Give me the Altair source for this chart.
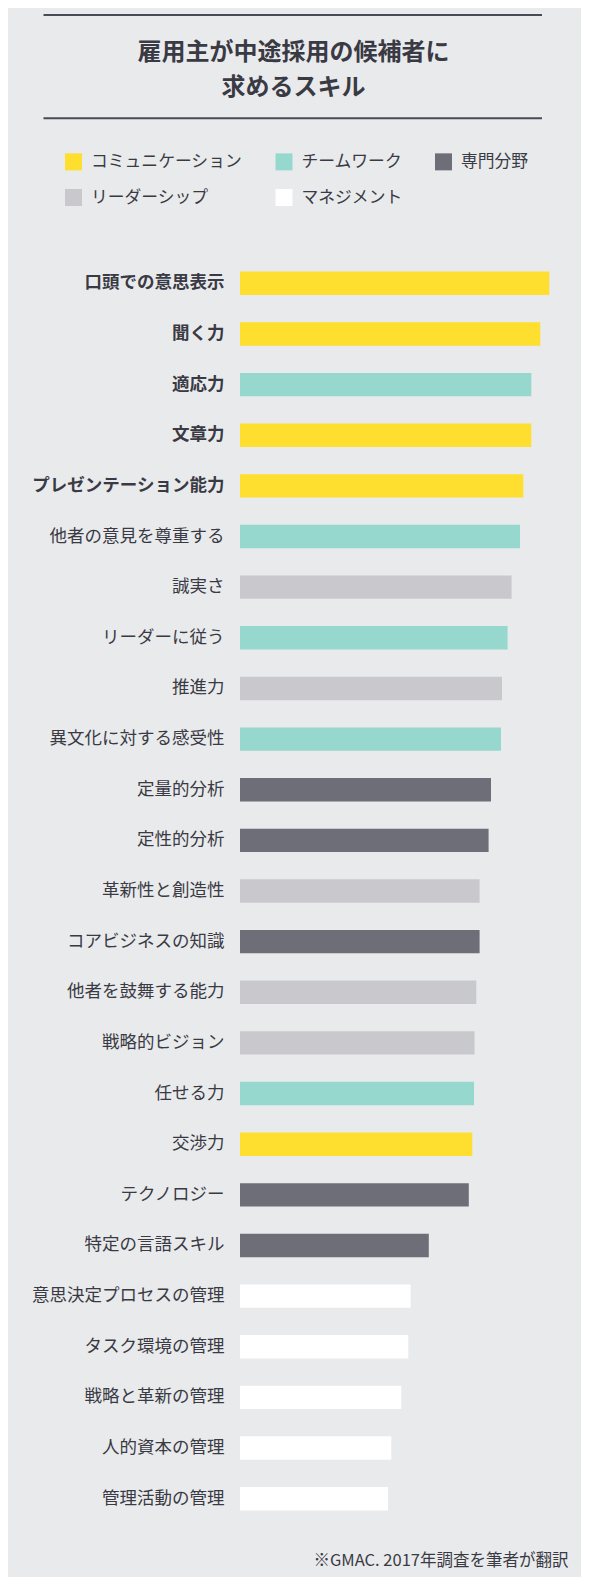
import json
import altair as alt
import pandas as pd

# ---- data ----
skills = [
    "口頭での意思表示", "聞く力", "適応力", "文章力", "プレゼンテーション能力",
    "他者の意見を尊重する", "誠実さ", "リーダーに従う", "推進力", "異文化に対する感受性",
    "定量的分析", "定性的分析", "革新性と創造性", "コアビジネスの知識", "他者を鼓舞する能力",
    "戦略的ビジョン", "任せる力", "交渉力", "テクノロジー", "特定の言語スキル",
    "意思決定プロセスの管理", "タスク環境の管理", "戦略と革新の管理", "人的資本の管理", "管理活動の管理",
]
values = [
    309.3, 300.3, 291.3, 291.3, 283.3,
    280.0, 271.6, 267.6, 262.0, 261.0,
    251.0, 248.6, 239.6, 239.6, 236.3,
    234.6, 234.0, 232.3, 228.8, 188.8,
    170.6, 168.3, 161.3, 151.3, 148.0,
]
categories = [
    "コミュニケーション", "コミュニケーション", "チームワーク", "コミュニケーション", "コミュニケーション",
    "チームワーク", "リーダーシップ", "チームワーク", "リーダーシップ", "チームワーク",
    "専門分野", "専門分野", "リーダーシップ", "専門分野", "リーダーシップ",
    "リーダーシップ", "チームワーク", "コミュニケーション", "専門分野", "専門分野",
    "マネジメント", "マネジメント", "マネジメント", "マネジメント", "マネジメント",
]
cat_order = ["コミュニケーション", "チームワーク", "専門分野", "リーダーシップ", "マネジメント"]
cat_colors = ["#FEDE2F", "#96D8CE", "#6E6E78", "#C9C9CD", "#FFFFFF"]
bold_skills = skills[:5]
title_lines = ["雇用主が中途採用の候補者に", "求めるスキル"]
source_note = "※GMAC. 2017年調査を筆者が翻訳"

df = pd.DataFrame({"skill": skills, "value": values, "category": categories})
one = pd.DataFrame({"k": [0]})

FONT = "Noto Sans CJK JP"
TEXT = "#3a3a44"
BG = "#E9EAEC"
LINE = "#4a4a55"

bold_expr = ("indexof(" + json.dumps(bold_skills, ensure_ascii=False)
             + ", datum.value) >= 0 ? 'bold' : 'normal'")

W, H = 320, 1266

bars = alt.Chart(df).mark_bar().encode(
    y=alt.Y(
        "skill:N", sort=skills,
        scale=alt.Scale(paddingInner=0.538, paddingOuter=0.269),
        axis=alt.Axis(
            title=None, ticks=False, domain=False, grid=False,
            labelPadding=16, labelFontSize=17.5, labelFont=FONT,
            labelColor=TEXT, labelLimit=300,
            labelFontWeight={"expr": bold_expr},
        ),
    ),
    x=alt.X(
        "value:Q",
        scale=alt.Scale(domain=[0, W], nice=False),
        title=source_note,
        axis=alt.Axis(
            labels=False, ticks=False, domain=False, grid=False,
            titleFont=FONT, titleFontSize=16.5, titleFontWeight="normal",
            titleColor=TEXT, titleAlign="right", titleBaseline="middle",
            titleX=328, titleY=36,
        ),
    ),
    color=alt.Color(
        "category:N",
        scale=alt.Scale(domain=cat_order, range=cat_colors),
        title=None,
        legend=alt.Legend(
            orient="none", legendX=-175, legendY=-105, columns=3,
            direction="horizontal",
            symbolType="square", symbolSize=289, symbolStrokeWidth=0,
            symbolOpacity=1, labelFont=FONT, labelFontSize=16.8,
            labelColor=TEXT, labelOffset=9, columnPadding=32.5,
            rowPadding=18, labelLimit=300,
        ),
    ),
)

rule_top = alt.Chart(one).mark_rule(color=LINE, strokeWidth=2).encode(
    x=alt.value(-196.5), x2=alt.value(302), y=alt.value(-243)
)
rule_bottom = alt.Chart(one).mark_rule(color=LINE, strokeWidth=2).encode(
    x=alt.value(-196.5), x2=alt.value(302), y=alt.value(-139.7)
)

chart = alt.layer(rule_top, rule_bottom, bars).properties(
    width=W, height=H,
    autosize=alt.AutoSizeParams(type="none"),
    padding={"left": 232, "top": 250, "right": 21, "bottom": 53},
    background=BG,
    title=alt.TitleParams(
        text=title_lines, font=FONT, fontSize=24, fontWeight="bold",
        color=TEXT, anchor="middle", lineHeight=35, dx=-106.5, dy=85.5,
        offset=0,
    ),
).configure_view(stroke=None)

chart.save("out.html", embed_options={"renderer": "svg", "actions": False})
